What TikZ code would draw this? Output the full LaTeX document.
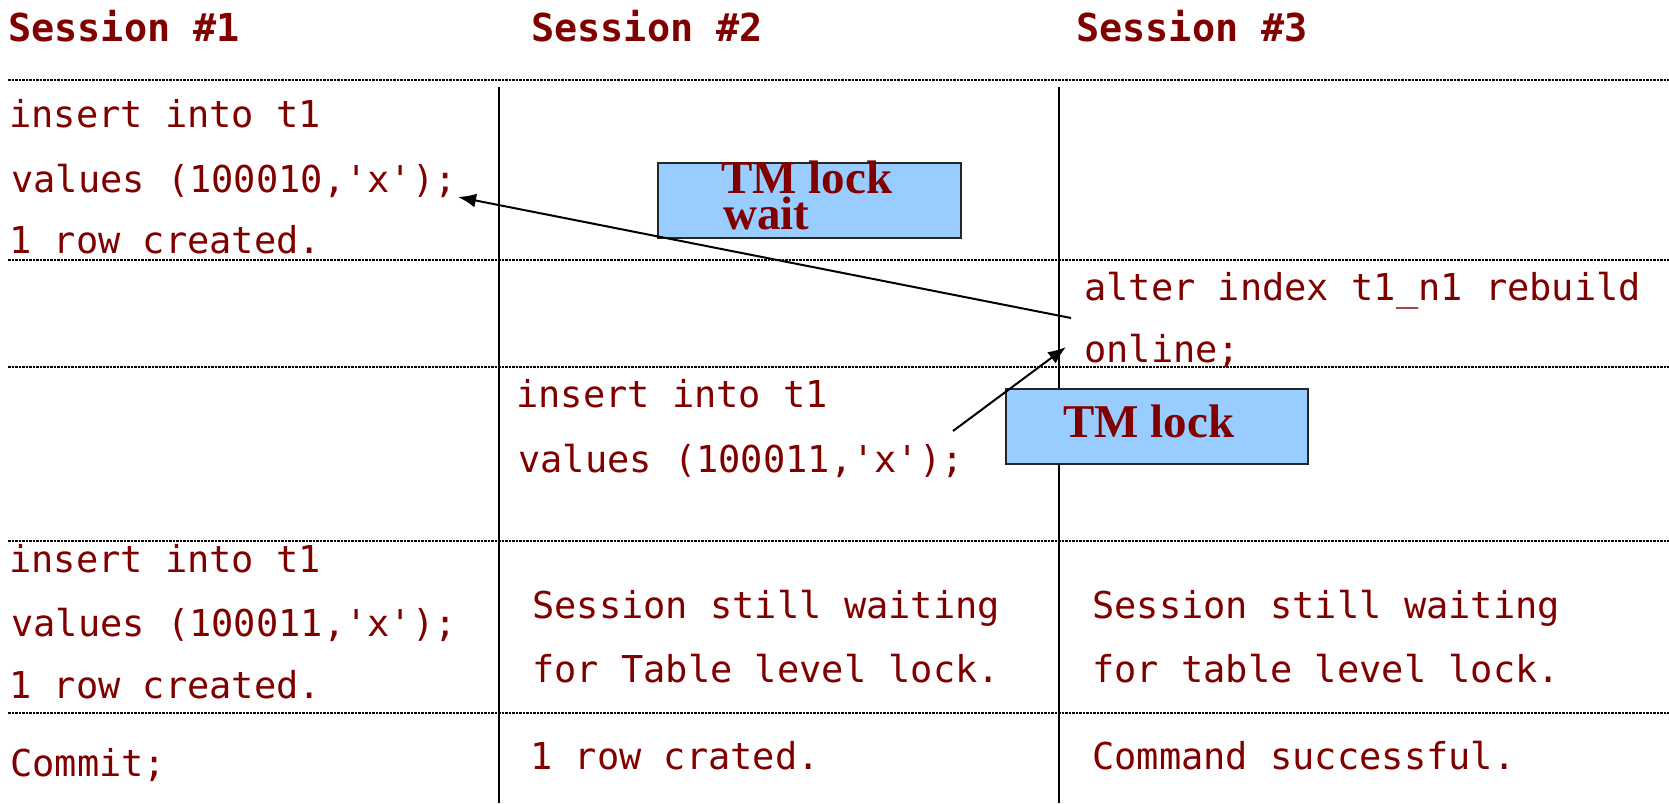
\documentclass[tikz,border=0pt]{standalone}
\usepackage{fontspec}
\setmainfont{Liberation Serif}
\setmonofont{DejaVu Sans Mono}
\usetikzlibrary{arrows.meta}
\definecolor{dred}{RGB}{128,0,0}
\definecolor{lockblue}{RGB}{153,204,255}
\tikzset{
  code/.style={anchor=base west, inner sep=0pt, text=dred, font=\ttfamily\fontsize{37}{44}\selectfont},
  head/.style={anchor=base west, inner sep=0pt, text=dred, font=\ttfamily\bfseries\fontsize{38.5}{46}\selectfont},
  locktxt/.style={anchor=base west, inner sep=0pt, text=dred, font=\rmfamily\bfseries\fontsize{47}{37}\selectfont},
  lockbox/.style={draw=black!85, line width=1.8pt, fill=lockblue, inner sep=0pt},
  rowline/.style={line width=1.4pt, dash pattern=on 2.5pt off 1pt},
  colline/.style={line width=1.8pt},
  msg/.style={line width=2pt, -{Latex[length=18pt,width=14pt]}},
}
\begin{document}
\begin{tikzpicture}[x=1pt,y=-1pt]
\useasboundingbox (0,0) rectangle (1669,803);
% row separators
\foreach \yy in {80,260,367,541,713}{\draw[rowline] (8,\yy) -- (1669,\yy);}
% column separators
\draw[colline] (499,87) -- (499,803);
\draw[colline] (1059,87) -- (1059,803);
% lock boxes
\node[lockbox, minimum width=303pt, minimum height=75pt] (box1) at (809.5,200.5) {};
\node[lockbox, minimum width=302pt, minimum height=75pt] (box2) at (1157,426.5) {};
\node[locktxt, align=left] (box1a) at (721,229) {TM lock\\[-1pt]\hspace*{2pt}wait};
\node[locktxt] (box2a) at (1063,437) {TM lock};
% headers
\node[head] (h1) at (8,41) {Session \#1};
\node[head] (h2) at (531,41) {Session \#2};
\node[head] (h3) at (1076,41) {Session \#3};
% session 1
\node[code] (s1a) at (9,127) {insert into t1};
\node[code] (s1b) at (11,192) {values (100010,'x');};
\node[code] (s1c) at (9,253) {1 row created.};
\node[code] (s1d) at (9,572) {insert into t1};
\node[code] (s1e) at (11,636) {values (100011,'x');};
\node[code] (s1f) at (9,698) {1 row created.};
\node[code] (s1g) at (10,776) {Commit;};
% session 2
\node[code] (s2a) at (516,407) {insert into t1};
\node[code] (s2b) at (518,472) {values (100011,'x');};
\node[code] (s2c) at (532,618) {Session still waiting};
\node[code] (s2d) at (532,682) {for Table level lock.};
\node[code] (s2e) at (530,769) {1 row crated.};
% session 3
\node[code] (s3a) at (1084,300) {alter index t1\_n1 rebuild};
\node[code] (s3b) at (1084,362) {online;};
\node[code] (s3c) at (1092,618) {Session still waiting};
\node[code] (s3d) at (1092,682) {for table level lock.};
\node[code] (s3e) at (1092,769) {Command successful.};
% arrows
\coordinate (a1from) at (1071,318);
\coordinate (a1to) at (458,197);
\coordinate (a2from) at (953,431);
\coordinate (a2to) at (1066,347);
\draw[msg] (a1from) -- (a1to);
\draw[msg] (a2from) -- (a2to);
\end{tikzpicture}
\end{document}
